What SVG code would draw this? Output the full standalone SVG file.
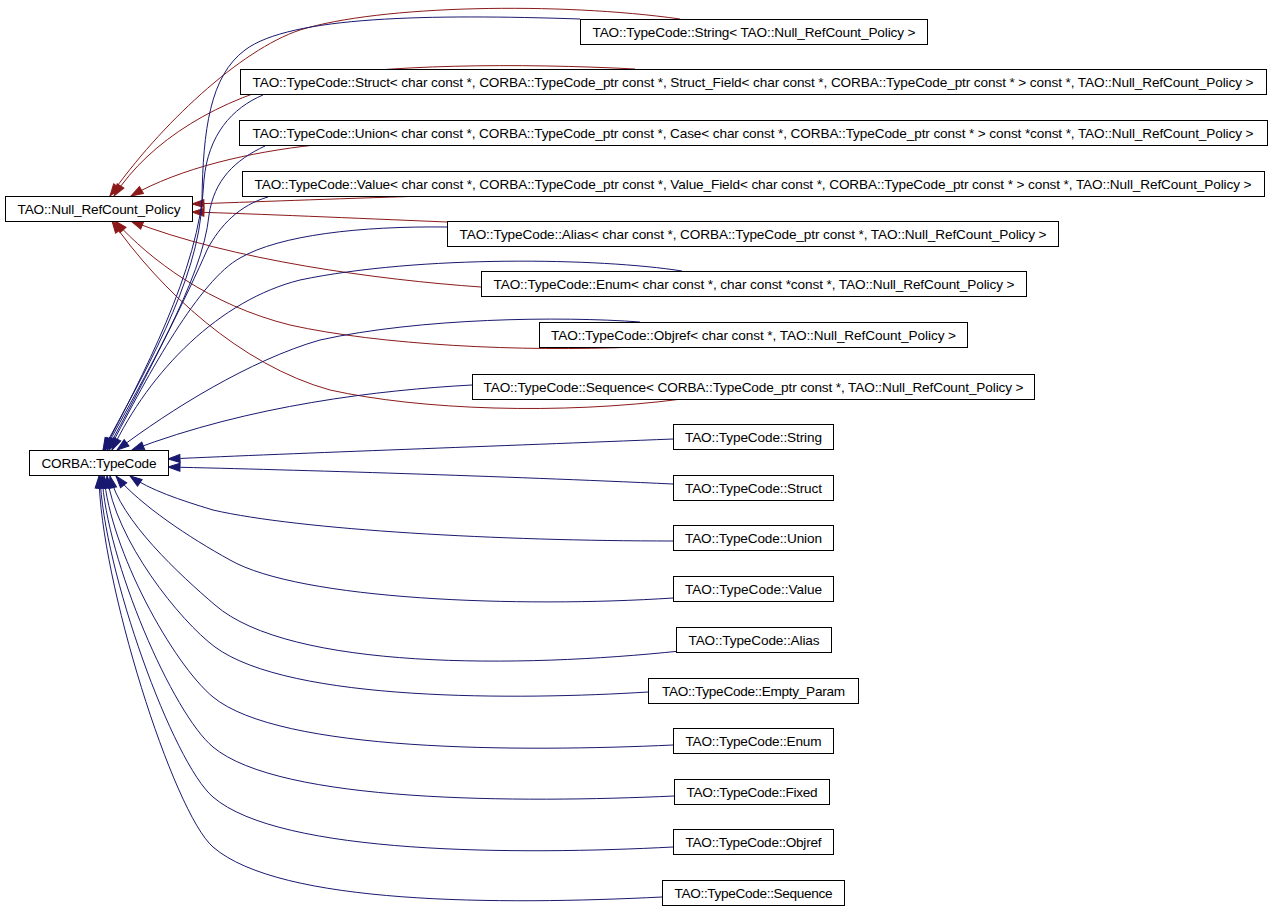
<svg xmlns="http://www.w3.org/2000/svg" width="1272" height="912" viewBox="0 0 1272 912">
<style>
.node rect{fill:#fff;stroke:#000;stroke-width:1}
.node text{font-family:"Liberation Sans",Arial,Helvetica,sans-serif;font-size:13.6px;text-anchor:middle;fill:#000}
.r{fill:none;stroke:#8b1a1a;stroke-width:1;marker-end:url(#ar)}
.b{fill:none;stroke:#191970;stroke-width:1;marker-end:url(#ab)}
</style>
<defs>
<marker id="ar" markerUnits="userSpaceOnUse" markerWidth="13" markerHeight="9" refX="12" refY="4" orient="auto" overflow="visible"><path d="M0,0 L12,4 L0,8 z" fill="#8b1a1a" stroke="#8b1a1a" stroke-width="1"/></marker>
<marker id="ab" markerUnits="userSpaceOnUse" markerWidth="13" markerHeight="9" refX="12" refY="4" orient="auto" overflow="visible"><path d="M0,0 L12,4 L0,8 z" fill="#191970" stroke="#191970" stroke-width="1"/></marker>
</defs>
<rect width="1272" height="912" fill="#fff"/>
<g id="connectors">
<!-- red: to TAO::Null_RefCount_Policy -->
<path class="r" d="M680,19 C560,2 380,5 300,30 C240,50 160,125 110,196"/>
<path class="r" d="M635,69 C520,63 380,64 300,80 C220,98 150,140 114,196"/>
<path class="r" d="M315,145 C250,152 180,168 131,196"/>
<path class="r" d="M425,196 C330,199 250,202 192,204"/>
<path class="r" d="M447,222 C350,218 260,214 192,212"/>
<path class="r" d="M481,287 C380,280 230,260 131,221"/>
<path class="r" d="M636,347 C520,352 380,345 290,325 C210,305 150,260 115,221"/>
<path class="r" d="M682,399 C560,415 420,410 330,390 C240,365 160,290 112,221"/>
<!-- blue: template instances to CORBA::TypeCode -->
<path class="b" d="M580,19 C430,14 290,16 245,50 C210,76 203,130 202,200 C200,280 140,380 103,450"/>
<path class="b" d="M263,95 C232,108 208,135 204,180 C200,270 140,380 104,450"/>
<path class="b" d="M265,146 C235,160 214,180 209,215 C203,280 142,380 105,450"/>
<path class="b" d="M268,197 C240,205 220,225 207,250 C190,290 140,390 107,450"/>
<path class="b" d="M447,227 C360,226 280,235 240,258 C200,280 150,370 109,450"/>
<path class="b" d="M682,271 C600,258 420,255 300,280 C220,300 150,370 112,450"/>
<path class="b" d="M640,322 C560,316 420,318 320,340 C250,360 170,410 117,450"/>
<path class="b" d="M472,385 C380,390 250,405 132,450"/>
<!-- blue: plain classes to CORBA::TypeCode -->
<path class="b" d="M673,439 C500,446 300,453 168,459"/>
<path class="b" d="M673,484 C500,476 300,470 168,467"/>
<path class="b" d="M673,541 C500,541 300,530 213,510 C180,500 150,490 130,476"/>
<path class="b" d="M673,598 C520,608 300,600 230,560 C190,538 140,505 116,476"/>
<path class="b" d="M680,651 C520,668 290,670 215,605 C180,575 120,520 110,476"/>
<path class="b" d="M648,692 C520,700 290,702 215,647 C180,621 115,540 107,476"/>
<path class="b" d="M673,745 C520,752 280,752 213,697 C173,664 110,550 104,476"/>
<path class="b" d="M674,796 C520,803 280,803 213,747 C173,714 106,560 102,476"/>
<path class="b" d="M673,847 C520,855 280,855 213,797 C173,763 103,570 100,476"/>
<path class="b" d="M662,897 C500,905 280,905 213,847 C173,812 100,580 99,476"/>
</g>
<g id="n_null" class="node"><rect x="5.5" y="196.5" width="187" height="25"/><text x="99" y="213.5" textLength="163" lengthAdjust="spacing">TAO::Null_RefCount_Policy</text></g>
<g id="n_corba" class="node"><rect x="29.5" y="450.5" width="139" height="25"/><text x="99" y="467.5" textLength="115" lengthAdjust="spacing">CORBA::TypeCode</text></g>
<g id="n_string_t" class="node"><rect x="580.5" y="19.5" width="347" height="25"/><text x="754" y="36.5" textLength="323" lengthAdjust="spacing">TAO::TypeCode::String&lt; TAO::Null_RefCount_Policy &gt;</text></g>
<g id="n_struct_t" class="node"><rect x="240.5" y="69.5" width="1026" height="25"/><text x="753" y="86.5" textLength="1001" lengthAdjust="spacing">TAO::TypeCode::Struct&lt; char const *, CORBA::TypeCode_ptr const *, Struct_Field&lt; char const *, CORBA::TypeCode_ptr const * &gt; const *, TAO::Null_RefCount_Policy &gt;</text></g>
<g id="n_union_t" class="node"><rect x="239.5" y="120.5" width="1028" height="25"/><text x="753" y="137.5" textLength="1001" lengthAdjust="spacing">TAO::TypeCode::Union&lt; char const *, CORBA::TypeCode_ptr const *, Case&lt; char const *, CORBA::TypeCode_ptr const * &gt; const *const *, TAO::Null_RefCount_Policy &gt;</text></g>
<g id="n_value_t" class="node"><rect x="242.5" y="171.5" width="1022" height="25"/><text x="753" y="188.5" textLength="997" lengthAdjust="spacing">TAO::TypeCode::Value&lt; char const *, CORBA::TypeCode_ptr const *, Value_Field&lt; char const *, CORBA::TypeCode_ptr const * &gt; const *, TAO::Null_RefCount_Policy &gt;</text></g>
<g id="n_alias_t" class="node"><rect x="447.5" y="221.5" width="611" height="25"/><text x="753" y="238.5" textLength="587" lengthAdjust="spacing">TAO::TypeCode::Alias&lt; char const *, CORBA::TypeCode_ptr const *, TAO::Null_RefCount_Policy &gt;</text></g>
<g id="n_enum_t" class="node"><rect x="481.5" y="271.5" width="545" height="25"/><text x="754" y="288.5" textLength="521" lengthAdjust="spacing">TAO::TypeCode::Enum&lt; char const *, char const *const *, TAO::Null_RefCount_Policy &gt;</text></g>
<g id="n_objref_t" class="node"><rect x="539.5" y="322.5" width="428" height="25"/><text x="753.5" y="339.5" textLength="405" lengthAdjust="spacing">TAO::TypeCode::Objref&lt; char const *, TAO::Null_RefCount_Policy &gt;</text></g>
<g id="n_sequence_t" class="node"><rect x="472.5" y="374.5" width="562" height="25"/><text x="753.5" y="391.5" textLength="540" lengthAdjust="spacing">TAO::TypeCode::Sequence&lt; CORBA::TypeCode_ptr const *, TAO::Null_RefCount_Policy &gt;</text></g>
<g id="n_string" class="node"><rect x="673.5" y="424.5" width="160" height="25"/><text x="753.5" y="441.5" textLength="137" lengthAdjust="spacing">TAO::TypeCode::String</text></g>
<g id="n_struct" class="node"><rect x="673.5" y="475.5" width="160" height="25"/><text x="753.5" y="492.5" textLength="137" lengthAdjust="spacing">TAO::TypeCode::Struct</text></g>
<g id="n_union" class="node"><rect x="673.5" y="525.5" width="160" height="25"/><text x="753.5" y="542.5" textLength="137" lengthAdjust="spacing">TAO::TypeCode::Union</text></g>
<g id="n_value" class="node"><rect x="673.5" y="576.5" width="160" height="25"/><text x="753.5" y="593.5" textLength="137" lengthAdjust="spacing">TAO::TypeCode::Value</text></g>
<g id="n_alias" class="node"><rect x="676.5" y="627.5" width="155" height="25"/><text x="754" y="644.5" textLength="131" lengthAdjust="spacing">TAO::TypeCode::Alias</text></g>
<g id="n_empty_param" class="node"><rect x="648.5" y="678.5" width="210" height="25"/><text x="753.5" y="695.5" textLength="183" lengthAdjust="spacing">TAO::TypeCode::Empty_Param</text></g>
<g id="n_enum" class="node"><rect x="673.5" y="728.5" width="160" height="25"/><text x="753.5" y="745.5" textLength="136" lengthAdjust="spacing">TAO::TypeCode::Enum</text></g>
<g id="n_fixed" class="node"><rect x="674.5" y="779.5" width="155" height="25"/><text x="752" y="796.5" textLength="131" lengthAdjust="spacing">TAO::TypeCode::Fixed</text></g>
<g id="n_objref" class="node"><rect x="673.5" y="829.5" width="160" height="25"/><text x="753.5" y="846.5" textLength="136" lengthAdjust="spacing">TAO::TypeCode::Objref</text></g>
<g id="n_sequence" class="node"><rect x="662.5" y="880.5" width="182" height="25"/><text x="753.5" y="897.5" textLength="158" lengthAdjust="spacing">TAO::TypeCode::Sequence</text></g>
</svg>
